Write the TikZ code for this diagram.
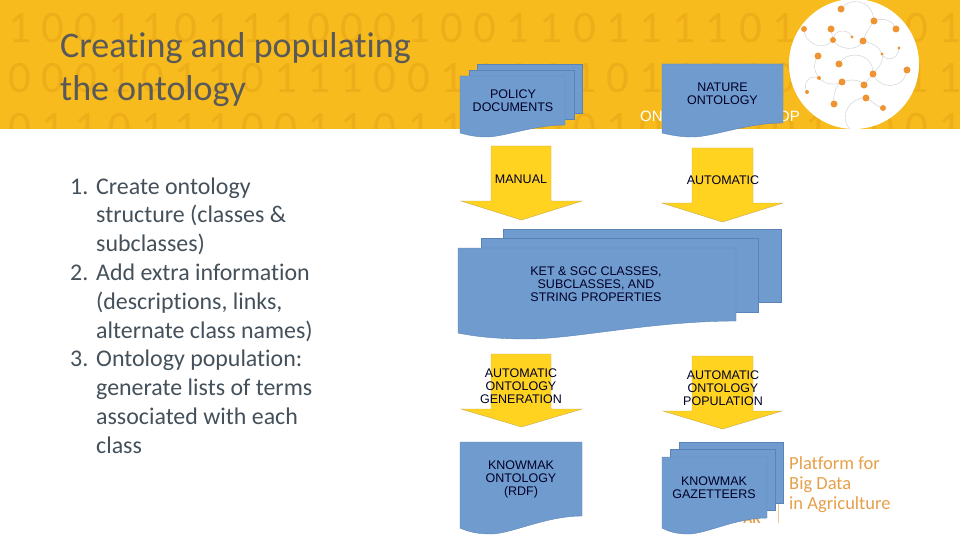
\documentclass[tikz,border=0pt]{standalone}
\usepackage{fontspec}
\setmainfont{Carlito}[Ligatures=NoCommon]
\newfontfamily\boxfont{Liberation Sans}

\definecolor{bandyellow}{HTML}{F8BB1D}
\definecolor{digitshade}{HTML}{EDAE19}
\definecolor{sheetblue}{HTML}{6F9BCF}
\definecolor{sheetedge}{HTML}{5A84B8}
\definecolor{arrowyellow}{HTML}{FFD320}
\definecolor{arrowedge}{HTML}{C4AB50}
\definecolor{titlegrey}{HTML}{595959}
\definecolor{bodygrey}{HTML}{44505A}
\definecolor{logoorange}{HTML}{EE9433}
\definecolor{platformorange}{HTML}{E6A04A}
\definecolor{logoline}{HTML}{C8CED4}

\tikzset{
    digit/.style={inner sep=0, text=digitshade, font=\fontsize{45}{45}\selectfont},
    titletext/.style={inner sep=0, anchor=base west, text=titlegrey, font=\fontsize{36}{43}\selectfont},
    listtext/.style={inner sep=0, anchor=base west, text=bodygrey, font=\fontsize{23.9}{28.8}\selectfont, align=left},
    sheet/.style={fill=sheetblue, draw=sheetedge, line width=0.4pt},
    flowarrow/.style={fill=arrowyellow, draw=arrowedge, line width=0.4pt},
    boxlabel/.style={inner sep=0, align=center, text=black!85!blue, font=\boxfont\fontsize{12.5}{13}\selectfont},
    logodot/.style={fill=logoorange},
    logocurve/.style={draw=logoline, line width=0.4pt},
    platform/.style={inner sep=0, anchor=base west, text=platformorange, font=\fontsize{18.5}{20}\selectfont},
}

% left, top, right, bottom at the right, bottom at the left, lowest point
\newcommand{\wavesheet}[6]{
    \draw[sheet] (#1,#2) -- (#3,#2) -- (#3,#4)
        .. controls ({#3-0.3*(#3-#1)},#4) and ({#1+0.42*(#3-#1)},#6) .. ({#1+0.25*(#3-#1)},#6)
        .. controls ({#1+0.15*(#3-#1)},#6) and ({#1+0.07*(#3-#1)},{#6-2}) .. (#1,#5) -- cycle;
}
% stem left, stem right, top, shoulder, head left, head right, tip
\newcommand{\downblock}[7]{
    \draw[flowarrow] (#1,#3) -- (#2,#3) -- (#2,#4) -- (#6,#4)
        -- ({(#5+#6)/2},#7) -- (#5,#4) -- (#1,#4) -- cycle;
}
\newcommand{\digitrow}[2]{
    \foreach \d [count=\n from 0] in {#2}
        \node[digit] (digit#1n\n) at ({20+33.2*\n},#1) {\d};
}

\begin{document}
\begin{tikzpicture}[x=1pt, y=-1pt]
    \useasboundingbox (0,0) rectangle (960,540);
    \fill[white] (0,0) rectangle (960,540);

    % Band.
    \fill[bandyellow] (0,0) rectangle (960,129);
    \begin{scope}
        \clip (0,0) rectangle (960,129);
        \digitrow{28}{1,0,0,1,1,0,1,1,1,0,0,0,1,0,0,1,1,0,1,1,1,1,0,1,1,1,0,0,1}
        \digitrow{78}{0,0,0,1,0,1,1,0,1,1,1,0,0,1,1,1,1,1,0,1,1,0,1,0,0,0,1,1,1}
        \digitrow{128}{0,1,1,0,1,1,1,0,0,1,1,0,1,1,1,0,0,0,1,0,0,1,0,0,1,1,0,0,1}
    \end{scope}
    \node[inner sep=0, anchor=base west, text=white, font=\boxfont\fontsize{15}{15}\selectfont] (workshopa) at (640,122) {ON};
    \node[inner sep=0, anchor=base east, text=white, font=\boxfont\fontsize{15}{15}\selectfont] (workshopb) at (800,122) {OP};

    % Title.
    \node[titletext] (slidetitle) at (60,58) {Creating and populating};
    \node[titletext] (slidetitleb) at (60,101) {the ontology};

    % Steps, each placed by the baseline of its last line.
    \node[listtext] (stepa) at (70,194) {1.};
    \node[listtext] (stepatext) at (96,251.6) {Create ontology\\structure (classes \&\\subclasses)};
    \node[listtext] (stepb) at (70,280.4) {2.};
    \node[listtext] (stepbtext) at (96,338) {Add extra information\\(descriptions, links,\\alternate class names)};
    \node[listtext] (stepc) at (70,366.8) {3.};
    \node[listtext] (stepctext) at (96,453.2) {Ontology population:\\generate lists of terms\\associated with each\\class};

    % Logo.
    \fill[white] (854,64) circle (65);
    \draw[logocurve] (841,9) .. controls (848,-2) and (872,-3) .. (874,21);
    \draw[logocurve] (874,21) .. controls (882,17) and (893,20) .. (896,29);
    \draw[logocurve] (874,21) .. controls (870,27) and (866,32) .. (863,41);
    \draw[logocurve] (804,29) .. controls (804,44) and (824,52) .. (833,40);
    \draw[logocurve] (831,29) -- (833,40);
    \draw[logocurve] (833,40) .. controls (834,29) and (848,28) .. (852,37);
    \draw[logocurve] (833,40) .. controls (838,50) and (858,52) .. (863,41);
    \draw[logocurve] (863,41) .. controls (872,43) and (880,47) .. (882,54);
    \draw[logocurve] (882,54) .. controls (886,62) and (898,60) .. (899,48);
    \draw[logocurve] (882,54) .. controls (884,62) and (878,68) .. (873,74);
    \draw[logocurve] (839,64) .. controls (846,50) and (874,52) .. (873,74);
    \draw[logocurve] (818,56) .. controls (812,65) and (815,73) .. (819,78);
    \draw[logocurve] (819,78) .. controls (824,84) and (835,86) .. (842,82);
    \draw[logocurve] (819,78) .. controls (810,74) and (802,82) .. (807,92);
    \draw[logocurve] (842,82) .. controls (850,79) and (860,79) .. (864,85);
    \draw[logocurve] (864,85) -- (873,74);
    \draw[logocurve] (873,74) .. controls (880,90) and (904,90) .. (907,70);
    \draw[logocurve] (842,82) .. controls (835,86) and (833,95) .. (834,104);
    \draw[logocurve] (866,98) .. controls (872,100) and (876,107) .. (883,108);
    \draw[logocurve] (866,98) .. controls (850,97) and (838,116) .. (850,129);
    \foreach \x/\y/\r in {841/9/3.5, 874/21/3.5, 804/29/3, 831/29/3.5, 896/29/3.5,
        833/40/3, 852/37/1.7, 863/41/3.5, 899/48/1.7, 882/54/1.7, 818/56/3.5,
        839/64/3.5, 907/70/3.5, 873/74/3.5, 819/78/2, 842/82/3.5, 864/85/3.5,
        807/92/2, 866/98/3.5, 834/104/3.5, 883/108/3}
        \fill[logodot] (\x,\y) circle (\r);

    % Platform text.
    \node[platform] (platforma) at (789,469) {Platform for};
    \node[platform] (platformb) at (789,489) {Big Data};
    \node[platform] (platformc) at (789,509) {in Agriculture};
    \draw[platformorange!60, line width=0.4pt] (778,503) -- (778,523);
    \node[inner sep=0, anchor=base east, text=platformorange, font=\bfseries\fontsize{15}{15}\selectfont] (cutoff) at (761,523) {AR};

    % Documents.
    \draw[sheet] (477,64) rectangle (582,113);
    \draw[sheet] (469,70) rectangle (574,119);
    \wavesheet{460}{76}{565}{125}{133}{137}
    \node[boxlabel] (policy) at (513,101) {POLICY\\DOCUMENTS};

    \wavesheet{662}{64}{783}{123}{133}{137}
    \node[boxlabel] (nature) at (722.5,94) {NATURE\\ONTOLOGY};

    \draw[sheet] (503,229) rectangle (781,302);
    \draw[sheet] (481,238) rectangle (758,312);
    \wavesheet{458}{248}{736}{321}{333}{339}
    \node[boxlabel] (classes) at (596,284.5) {KET \& SGC CLASSES,\\SUBCLASSES, AND\\STRING PROPERTIES};

    \wavesheet{460}{442}{582}{516}{528}{534}
    \node[boxlabel] (rdf) at (521,479.5) {KNOWMAK\\ONTOLOGY\\(RDF)};

    \draw[sheet] (679,442) rectangle (783,503);
    \draw[sheet] (670,449) rectangle (775,510);
    \wavesheet{662}{457}{767}{518}{528}{534}
    \node[boxlabel] (gazetteers) at (714,488) {KNOWMAK\\GAZETTEERS};

    % Arrows.
    \downblock{491}{551}{146}{201}{461}{582}{220}
    \node[boxlabel] (manual) at (521,179.5) {MANUAL};

    \downblock{692}{753}{148}{203}{662}{783}{222}
    \node[boxlabel] (automatic) at (723,180.5) {AUTOMATIC};

    \downblock{491}{551}{354}{409}{461}{582}{427}
    \node[boxlabel] (generation) at (521,386) {AUTOMATIC\\ONTOLOGY\\GENERATION};

    \downblock{692}{753}{356}{411}{663}{782}{429}
    \node[boxlabel] (population) at (723,388) {AUTOMATIC\\ONTOLOGY\\POPULATION};
\end{tikzpicture}
\end{document}
